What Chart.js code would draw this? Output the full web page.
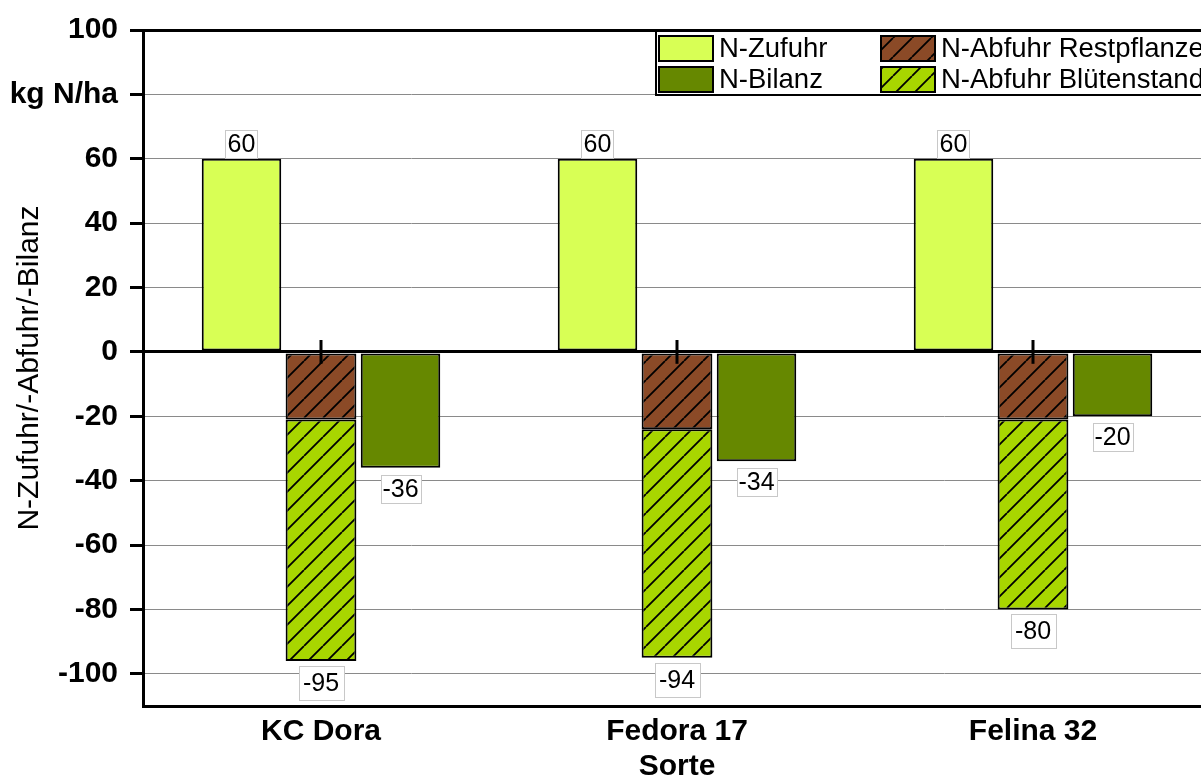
<!DOCTYPE html>
<html><head><meta charset="utf-8">
<script src="https://cdn.jsdelivr.net/npm/chart.js@4.4.0/dist/chart.umd.min.js"></script>
<style>
html,body{margin:0;padding:0;overflow:hidden;background:#fff;}
#wrap{width:1201px;height:779px;overflow:hidden;position:relative;}
canvas{display:block;}
</style></head><body>
<div id="wrap"><canvas id="c" width="1214" height="779"></canvas></div>
<script>
// ---- data ----
const categories = ['KC Dora', 'Fedora 17', 'Felina 32'];
const nZufuhr = [60, 60, 60];
const nAbfuhrRest = [-21, -24, -21];
const nAbfuhrBluete = [-75, -71, -59];
const nBilanz = [-36, -34, -20];
const abfuhrTotalLabels = [-95, -94, -80];
const restErrCenter = [0, 0, 0];
const restErrHalf = [3.7, 3.7, 3.7];
const yTickValues = [-100, -80, -60, -40, -20, 0, 20, 40, 60, 80, 100];
const yTickLabels = ['-100', '-80', '-60', '-40', '-20', '0', '20', '40', '60', 'kg N/ha', '100'];
const seriesNames = ['N-Zufuhr', 'N-Abfuhr Restpflanze', 'N-Abfuhr Blütenstand', 'N-Bilanz'];

const FONT = '"Liberation Sans", Arial, Helvetica, sans-serif';
Chart.defaults.font.family = FONT;
Chart.defaults.color = '#000';

const colZufuhr = '#d8ff55';
const colRest = '#8b4a27';
const colBluete = '#a8d600';
const colBilanz = '#668800';

function hatch(bg) {
  const s = 19;
  const c = document.createElement('canvas');
  c.width = s; c.height = s;
  const g = c.getContext('2d');
  g.fillStyle = bg; g.fillRect(0, 0, s, s);
  g.strokeStyle = '#000'; g.lineWidth = 1.8;
  g.beginPath();
  for (const k of [-s, 0, s]) { g.moveTo(k, s); g.lineTo(k + s, 0); }
  g.stroke();
  return g.createPattern(c, 'repeat');
}
const patRest = hatch(colRest);
const patBluete = hatch(colBluete);

const labelPlugin = {
  id: 'valueLabels',
  afterDatasetsDraw(chart) {
    const ctx = chart.ctx;
    ctx.save();
    // error bars
    const yS = chart.scales.y;
    const mR = chart.getDatasetMeta(1);
    ctx.strokeStyle = '#000'; ctx.lineWidth = 3;
    mR.data.forEach((bar, i) => {
      const y1 = yS.getPixelForValue(restErrCenter[i] + restErrHalf[i]);
      const y2 = yS.getPixelForValue(restErrCenter[i] - restErrHalf[i]);
      ctx.beginPath(); ctx.moveTo(bar.x, y1); ctx.lineTo(bar.x, y2); ctx.stroke();
    });
    ctx.font = '25px ' + FONT;
    ctx.textAlign = 'center'; ctx.textBaseline = 'middle';
    function box(text, cx, top, h, pad) {
      const w = Math.round(ctx.measureText(text).width + pad);
      const x0 = Math.round(cx - w / 2), y0 = Math.round(top);
      ctx.fillStyle = '#fff'; ctx.fillRect(x0, y0, w, h);
      ctx.strokeStyle = '#c8c8c8'; ctx.lineWidth = 1;
      ctx.strokeRect(x0 + 0.5, y0 + 0.5, w, h);
      ctx.fillStyle = '#000'; ctx.fillText(text, cx, y0 + h / 2 + 1.5);
    }
    chart.getDatasetMeta(0).data.forEach((bar, i) => box(String(nZufuhr[i]), bar.x, bar.y - 29, 28, 4));
    chart.getDatasetMeta(3).data.forEach((bar, i) => box(String(nBilanz[i]), bar.x, bar.y + 7, 28, 4));
    chart.getDatasetMeta(2).data.forEach((bar, i) => box(String(abfuhrTotalLabels[i]), bar.x, bar.y + 5, 34, 9));
    ctx.restore();
  }
};

const legendPlugin = {
  id: 'boxLegend',
  afterDraw(chart) {
    const ctx = chart.ctx;
    ctx.save();
    ctx.fillStyle = '#fff';
    ctx.fillRect(656, 31, 560, 64);
    ctx.strokeStyle = '#000'; ctx.lineWidth = 2;
    ctx.strokeRect(656, 31, 560, 64);
    const items = [
      {ds: 0, x: 659, y: 36},
      {ds: 3, x: 659, y: 67},
      {ds: 1, x: 881, y: 36},
      {ds: 2, x: 881, y: 67}
    ];
    ctx.font = '27.5px ' + FONT;
    ctx.textAlign = 'left'; ctx.textBaseline = 'middle';
    items.forEach(it => {
      const d = chart.data.datasets[it.ds];
      ctx.fillStyle = d.backgroundColor;
      ctx.fillRect(it.x, it.y, 54, 25);
      ctx.strokeStyle = '#000'; ctx.lineWidth = 2;
      ctx.strokeRect(it.x, it.y, 54, 25);
      ctx.fillStyle = '#000';
      ctx.fillText(d.label, it.x + 60, it.y + 13.5);
    });
    ctx.restore();
  }
};

new Chart(document.getElementById('c'), {
  type: 'bar',
  data: {
    labels: categories,
    datasets: [
      {label: seriesNames[0], data: nZufuhr, stack: 'a', backgroundColor: colZufuhr, barPercentage: 1.0},
      {label: seriesNames[1], data: nAbfuhrRest, stack: 'b', backgroundColor: patRest, barPercentage: 0.89},
      {label: seriesNames[2], data: nAbfuhrBluete, stack: 'b', backgroundColor: patBluete, barPercentage: 0.89},
      {label: seriesNames[3], data: nBilanz, stack: 'c', backgroundColor: colBilanz, barPercentage: 1.0}
    ]
  },
  options: {
    responsive: false,
    animation: false,
    devicePixelRatio: 1,
    datasets: {bar: {borderColor: '#000', borderWidth: 2, borderSkipped: false, categoryPercentage: 0.67}},
    layout: {padding: {top: 26, right: 3, left: 0, bottom: 0}},
    plugins: {legend: {display: false}, tooltip: {enabled: false}},
    scales: {
      x: {
        type: 'category',
        grid: {display: false},
        border: {display: true, color: '#000', width: 3},
        ticks: {font: {size: 30, weight: 'bold'}, color: '#000', padding: 0},
        title: {display: true, text: 'Sorte', font: {size: 30, weight: 'bold', lineHeight: 0.8}, color: '#000', padding: {top: 0, bottom: 0}},
        afterFit(s) { s.height = 73; }
      },
      y: {
        min: -110, max: 100,
        afterBuildTicks(s) { s.ticks = yTickValues.map(v => ({value: v})); },
        grid: {
          color: c => (c.tick && (c.tick.value === 0 || c.tick.value === 100)) ? '#000' : '#8a8a8a',
          lineWidth: c => (c.tick && (c.tick.value === 0 || c.tick.value === 100)) ? 3 : 1,
          tickColor: '#000', tickWidth: 3, tickLength: 13, drawTicks: true
        },
        border: {display: true, color: '#000', width: 3},
        ticks: {
          font: {size: 30, weight: 'bold'}, color: '#000', padding: 12,
          callback: (v) => yTickLabels[yTickValues.indexOf(v)]
        },
        title: {display: true, text: 'N-Zufuhr/-Abfuhr/-Bilanz', font: {size: 30}, color: '#000', padding: {top: 12, bottom: 0}},
        afterFit(s) { s.width = 143; }
      }
    }
  },
  plugins: [labelPlugin, legendPlugin]
});
</script>
</body></html>
